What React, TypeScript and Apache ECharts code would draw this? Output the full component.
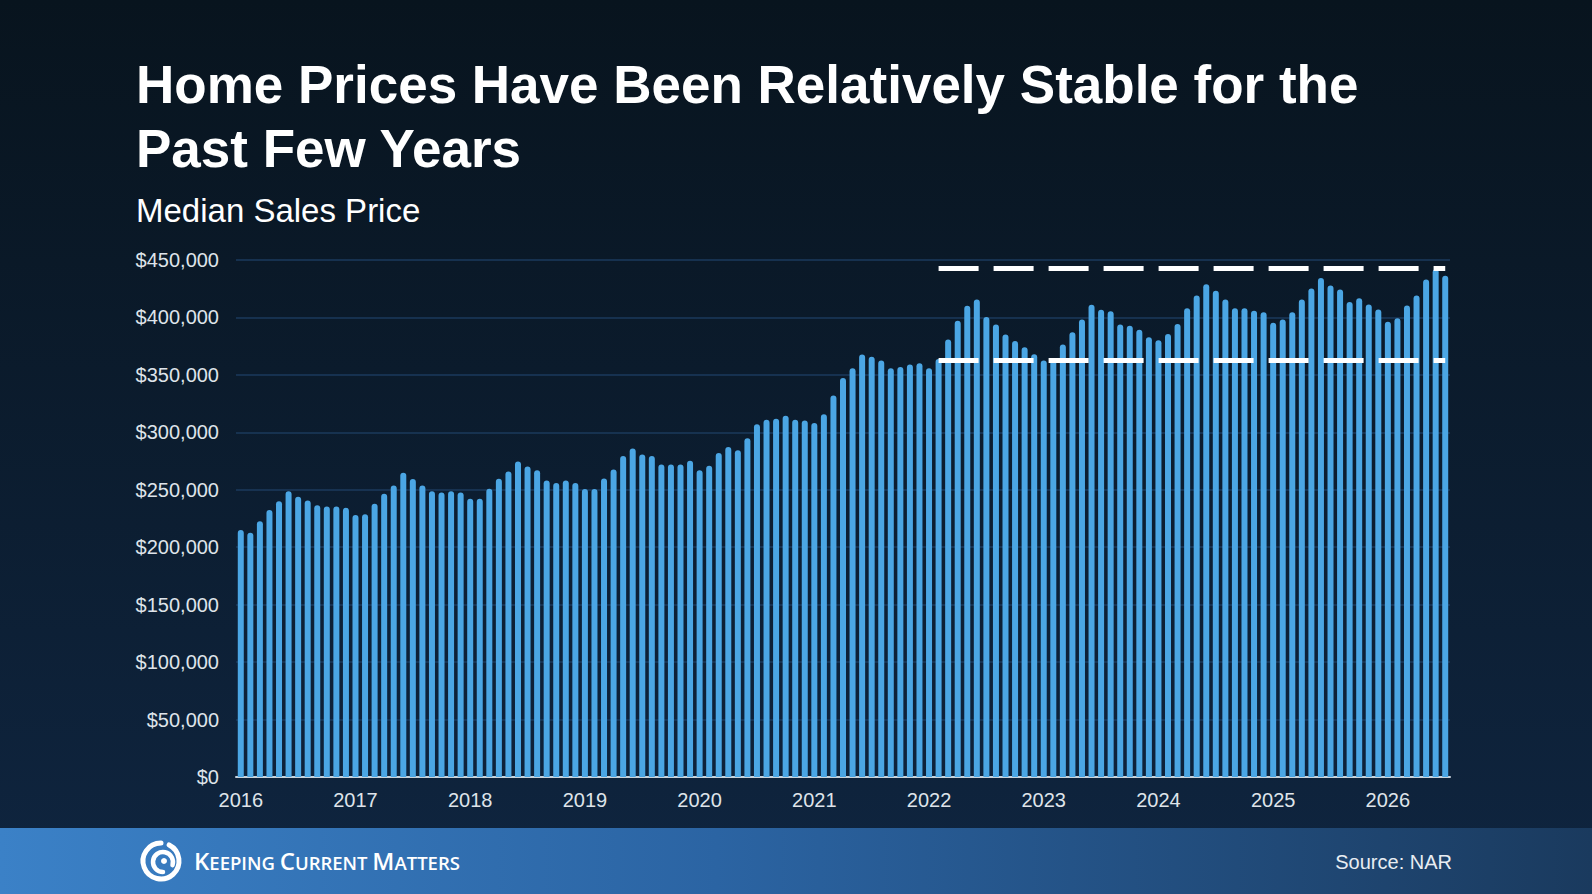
import React, { useEffect, useRef } from "react";
import * as echarts from "echarts";

// Median sales price, thousands of USD, read month by month (Jan..Dec)
const PRICES_2016 = [215, 212.5, 222.7, 232.5, 240, 248.8, 244, 240.7, 236.6, 235.5, 235.5, 234.3];
const PRICES_2017 = [228, 228.8, 237.8, 246.5, 253.8, 264.8, 259.3, 253.8, 248.8, 247.7, 248.8, 247.7];
const PRICES_2018 = [242.2, 242.2, 250.9, 259.6, 266, 274.7, 270.3, 267, 258.1, 255.8, 258.1, 255.8];
const PRICES_2019 = [250.6, 250.6, 259.9, 267.7, 279.3, 286, 280.8, 279.3, 272.1, 272.1, 272.1, 275.3];
const PRICES_2020 = [266.9, 270.9, 282, 287.2, 284.3, 294.8, 307, 311, 311.9, 314.5, 311, 310.2];
const PRICES_2021 = [308.1, 315.7, 332, 347.3, 355.8, 367.7, 365.7, 362.5, 355.8, 356.9, 359, 360.2];
const PRICES_2022 = [355.8, 363.9, 380.8, 397.1, 410.1, 415.7, 400.3, 393.9, 385.2, 379.6, 374.1, 368];
const PRICES_2023 = [362.5, 363, 376.5, 387.2, 398.3, 411, 406.6, 405.5, 393.9, 392.7, 389.2, 382.8];
const PRICES_2024 = [380.2, 385.5, 394.2, 408.1, 419.2, 428.8, 423.2, 415.7, 407.9, 407.9, 405.8, 404.6];
const PRICES_2025 = [395.3, 398.3, 404.6, 415.7, 425.3, 434.3, 427.9, 424.4, 413.4, 416.6, 411.3, 407];
const PRICES_2026 = [396.2, 399.4, 410.5, 419.2, 433.1, 441.9, 436.3];

const PRICES = [
  ...PRICES_2016, ...PRICES_2017, ...PRICES_2018, ...PRICES_2019,
  ...PRICES_2020, ...PRICES_2021, ...PRICES_2022, ...PRICES_2023,
  ...PRICES_2024, ...PRICES_2025, ...PRICES_2026,
];

const FIRST_YEAR = 2016;
const MONTHS = ["Jan", "Feb", "Mar", "Apr", "May", "Jun", "Jul", "Aug", "Sep", "Oct", "Nov", "Dec"];
const CATEGORIES = PRICES.map((_, i) => `${MONTHS[i % 12]} ${FIRST_YEAR + Math.floor(i / 12)}`);

// y axis ticks (thousands)
const Y_MIN = 0;
const Y_MAX = 450;
const Y_STEP = 50;

// the "stable" band drawn as dashed lines
const BAND_LEVELS = [443, 363];
const BAND_FROM = "Feb 2022";
const BAND_TO = CATEGORIES[CATEGORIES.length - 1];

const TITLE_LINES = ["Home Prices Have Been Relatively Stable for the", "Past Few Years"];
const SUBTITLE = "Median Sales Price";
const SOURCE = "Source: NAR";

const SANS = "'Liberation Sans', Arial, sans-serif";

export default function App() {
  const chartRef = useRef<HTMLDivElement>(null);

  useEffect(() => {
    if (!chartRef.current) return;
    const chart = echarts.init(chartRef.current, undefined, { renderer: "svg" });

    chart.setOption({
      animation: false,
      backgroundColor: new echarts.graphic.LinearGradient(0, 0, 0, 1, [
        { offset: 0, color: "#08141e" },
        { offset: 1, color: "#0f2540" },
      ]),
      grid: { left: 236, right: 142, top: 260, bottom: 117 },
      xAxis: {
        type: "category",
        data: CATEGORIES,
        axisLine: { lineStyle: { color: "#c9d3dc", width: 2 } },
        axisTick: { show: false },
        axisLabel: {
          interval: 11,
          margin: 13,
          color: "#dfe4ea",
          fontSize: 20,
          fontFamily: SANS,
          formatter: (v: string) => v.split(" ")[1],
        },
      },
      yAxis: {
        type: "value",
        min: Y_MIN,
        max: Y_MAX,
        interval: Y_STEP,
        axisLine: { show: false },
        axisTick: { show: false },
        splitLine: { lineStyle: { color: "#1b3a5c", width: 1.5 } },
        axisLabel: {
          margin: 17,
          color: "#dfe4ea",
          fontSize: 20,
          fontFamily: SANS,
          formatter: (v: number) => "$" + (v * 1000).toLocaleString("en-US"),
        },
      },
      series: [
        {
          type: "bar",
          data: PRICES,
          barWidth: 6,
          itemStyle: { color: "#4ba6e4", borderRadius: [3, 3, 0, 0] },
          markLine: {
            silent: true,
            symbol: ["none", "none"],
            label: { show: false },
            lineStyle: { color: "#ffffff", width: 5, type: [40, 15], cap: "butt" },
            data: BAND_LEVELS.map((lvl) => [
              { coord: [BAND_FROM, lvl] },
              { coord: [BAND_TO, lvl] },
            ]),
          },
        },
      ],
      graphic: [
        {
          type: "text",
          x: 136,
          y: 84,
          style: {
            text: TITLE_LINES[0],
            fontSize: 53,
            fontWeight: "bold",
            fontFamily: SANS,
            fill: "#ffffff",
            verticalAlign: "middle",
          },
        },
        {
          type: "text",
          x: 136,
          y: 148,
          style: {
            text: TITLE_LINES[1],
            fontSize: 53,
            fontWeight: "bold",
            fontFamily: SANS,
            fill: "#ffffff",
            verticalAlign: "middle",
          },
        },
        {
          type: "text",
          x: 136,
          y: 210,
          style: {
            text: SUBTITLE,
            fontSize: 33,
            fontFamily: SANS,
            fill: "#ffffff",
            verticalAlign: "middle",
          },
        },
        {
          type: "rect",
          shape: { x: 0, y: 828, width: 1592, height: 66 },
          style: {
            fill: new echarts.graphic.LinearGradient(0, 0, 1, 0, [
              { offset: 0, color: "#3b81c7" },
              { offset: 0.45, color: "#2b64a3" },
              { offset: 1, color: "#1a3a5e" },
            ]),
          },
        },
        // swirl logo
        {
          type: "arc",
          shape: { cx: 161, cy: 861, r: 18, startAngle: -0.35 * Math.PI, endAngle: 1.5 * Math.PI },
          style: { stroke: "#ffffff", lineWidth: 5, fill: "none", lineCap: "round" },
        },
        {
          type: "arc",
          shape: { cx: 163, cy: 862, r: 10, startAngle: 0.5 * Math.PI, endAngle: 2.1 * Math.PI },
          style: { stroke: "#ffffff", lineWidth: 4.5, fill: "none", lineCap: "round" },
        },
        {
          type: "circle",
          shape: { cx: 164, cy: 861, r: 3 },
          style: { fill: "#ffffff" },
        },
        {
          type: "text",
          x: 194,
          y: 860,
          style: {
            text: "{b|K}{s|EEPING }{b|C}{s|URRENT }{b|M}{s|ATTERS}",
            verticalAlign: "middle",
            rich: {
              b: { fontSize: 24, fontWeight: 600, fontFamily: "'Open Sans', sans-serif", fill: "#ffffff", verticalAlign: "bottom", lineHeight: 24 },
              s: { fontSize: 18.5, fontWeight: 600, fontFamily: "'Open Sans', sans-serif", fill: "#ffffff", verticalAlign: "bottom", lineHeight: 20 },
            },
          },
        },
        {
          type: "text",
          x: 1452,
          y: 862,
          style: {
            text: SOURCE,
            align: "right",
            verticalAlign: "middle",
            fontSize: 20,
            fontFamily: SANS,
            fill: "#e8edf2",
          },
        },
      ],
    });

    return () => {
      chart.dispose();
    };
  }, []);

  return (
    <div
      ref={chartRef}
      style={{ position: "fixed", left: 0, top: 0, width: 1592, height: 894 }}
    />
  );
}
